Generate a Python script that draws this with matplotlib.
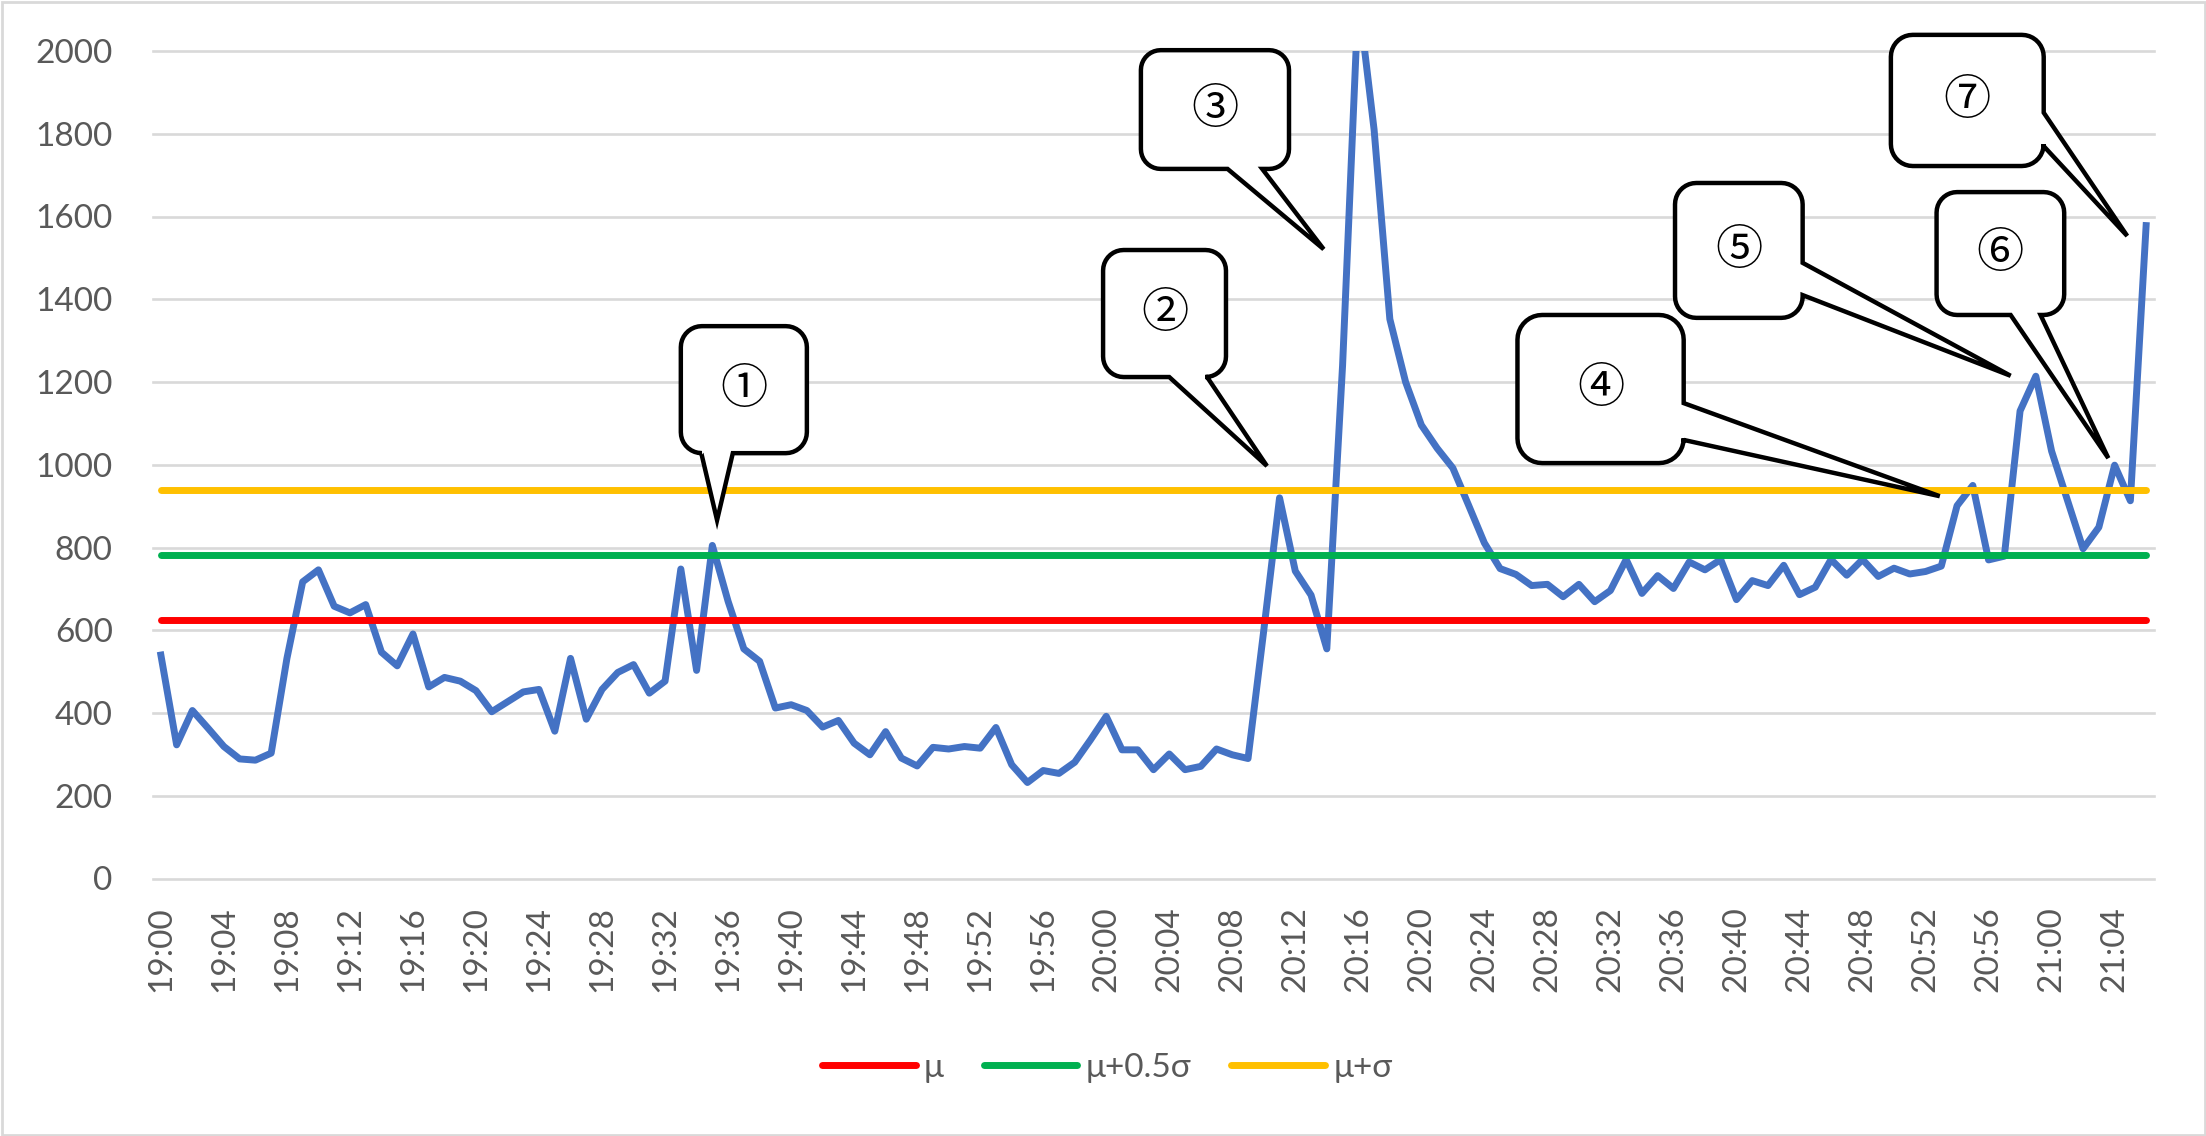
import numpy as np
import pandas as pd
import matplotlib
matplotlib.use("Agg")
import matplotlib.pyplot as plt
from matplotlib.patches import Polygon, Rectangle

plt.rcParams['font.family'] = ['Lato', 'Noto Sans', 'DejaVu Sans']

# one reading per minute, 19:00 .. 21:06
times = pd.date_range("2020-01-01 19:00", periods=127, freq="min").strftime("%H:%M").tolist()
values = [540, 323, 406, 363, 319, 289, 286, 303, 532, 717,
          746, 658, 642, 662, 547, 514, 591, 463, 486, 477,
          454, 403, 427, 451, 457, 356, 532, 385, 457, 498,
          517, 448, 477, 748, 503, 805, 670, 555, 525, 412,
          420, 406, 366, 382, 327, 299, 355, 291, 272, 317,
          313, 319, 315, 365, 275, 232, 261, 254, 281, 335,
          392, 311, 311, 263, 301, 263, 271, 313, 299, 290,
          600, 920, 743, 685, 555, 1240, 2130, 1810, 1352, 1200,
          1096, 1040, 992, 902, 811, 749, 735, 708, 711, 681,
          711, 669, 696, 771, 689, 732, 701, 765, 746, 771,
          674, 720, 708, 757, 686, 704, 771, 733, 771, 730,
          750, 736, 742, 755, 901, 950, 770, 779, 1130, 1214,
          1033, 915, 797, 849, 999, 913, 1578]

mu = 625
sigma = 314
levels = [("μ", mu, "#FF0000"),
          ("μ+0.5σ", mu + 0.5 * sigma, "#00B050"),
          ("μ+σ", mu + sigma, "#FFC000")]

# callouts: label, box (x0, x1, y0, y1), tip (x, y), side of wedge, wedge base
callouts = [
    ("①", (33.0, 41.0, 1028, 1335), (35.3, 866), "bottom", (34.3, 36.3)),
    ("②", (59.8, 67.6, 1212, 1519), (70.2, 997), "bottom", (64.0, 66.4)),
    ("③", (62.2, 71.6, 1715, 2002), (73.8, 1521), "bottom", (67.7, 69.9)),
    ("④", (86.1, 96.65, 1004, 1362), (112.9, 924), "right", (1060, 1149)),
    ("⑤", (96.1, 104.2, 1355, 1681), (117.4, 1215), "right", (1410, 1488)),
    ("⑥", (112.7, 120.8, 1362, 1659), (123.6, 1016), "bottom", (117.4, 119.3)),
    ("⑦", (109.8, 119.5, 1722, 2039), (124.8, 1553), "right", (1770, 1851)),
]

W, H = 2206, 1136
fig = plt.figure(figsize=(W / 100, H / 100), dpi=100)
ax = fig.add_axes([153 / W, 1 - 878.5 / H, (2154 - 153) / W, (878.5 - 51) / H])

x = np.arange(len(values))
ax.plot(x, values, color="#4472C4", lw=5.0, solid_joinstyle="round", zorder=3)
handles = []
for name, lvl, col in levels:
    ln, = ax.plot(x, np.full(len(x), lvl), color=col, lw=5.0,
                  solid_capstyle="round", label=name, zorder=4)
    handles.append(ln)

ax.set_xlim(-0.5, len(x) - 0.5)
ax.set_ylim(0, 2000)
ax.set_yticks(range(0, 2001, 200))
ax.set_xticks(x[::4])
ax.set_xticklabels(times[::4], rotation=90)
ax.tick_params(axis="both", length=0, labelsize=24, labelcolor="#595959")
ax.tick_params(axis="y", pad=29)
ax.tick_params(axis="x", pad=20)
ax.grid(axis="y", color="#D9D9D9", lw=1.9)
ax.set_axisbelow(True)
for gl in ax.get_ygridlines():
    gl.set_clip_on(False)
for sp in ax.spines.values():
    sp.set_visible(False)

fig.legend(handles, [h.get_label() for h in handles], loc="center",
           bbox_to_anchor=(0.502, 0.06), ncol=3, frameon=False, fontsize=24,
           handlelength=2.8, handletextpad=0.25, columnspacing=1.2,
           labelcolor="#595959")


def arc(cx, cy, r, a0, a1, n=10):
    t = np.radians(np.linspace(a0, a1, n))
    return list(zip(cx + r * np.cos(t), cy + r * np.sin(t)))


def draw_callout(ax, label, box, tip, side, base, z):
    T = ax.transData
    x0, x1, y0, y1 = box
    px0, py0 = T.transform((x0, y0))
    px1, py1 = T.transform((x1, y1))
    tx, ty = T.transform(tip)
    r = min(px1 - px0, py1 - py0) / 6.0
    pts = []
    pts += arc(px1 - r, py1 - r, r, 90, 0)
    if side == "right":
        b_lo = T.transform((x1, base[0]))[1]
        b_hi = T.transform((x1, base[1]))[1]
        pts += [(px1, b_hi), (tx, ty), (px1, b_lo)]
    pts += arc(px1 - r, py0 + r, r, 0, -90)
    if side == "bottom":
        b_l = T.transform((base[0], y0))[0]
        b_r = T.transform((base[1], y0))[0]
        pts += [(b_r, py0), (tx, ty), (b_l, py0)]
    pts += arc(px0 + r, py0 + r, r, -90, -180)
    pts += arc(px0 + r, py1 - r, r, 180, 90)
    data_pts = T.inverted().transform(np.array(pts))
    poly = Polygon(data_pts, closed=True, fc="white", ec="black", lw=3.2,
                   joinstyle="miter", clip_on=False, zorder=z)
    ax.add_patch(poly)
    ax.text((x0 + x1) / 2, (y0 + y1) / 2, label, ha="center", va="center",
            fontsize=34, family=["Noto Sans CJK JP", "DejaVu Sans"],
            color="black", zorder=z + 0.5, clip_on=False)


for k, (lab, box, tip, side, base) in enumerate(callouts):
    draw_callout(ax, lab, box, tip, side, base, 6 + k)

fig.add_artist(Rectangle((1.5 / W, 1.5 / H), 1 - 3 / W, 1 - 3 / H,
                         transform=fig.transFigure, fill=False,
                         ec="#D9D9D9", lw=2))

fig.savefig("out.png", dpi=100, facecolor="white")
